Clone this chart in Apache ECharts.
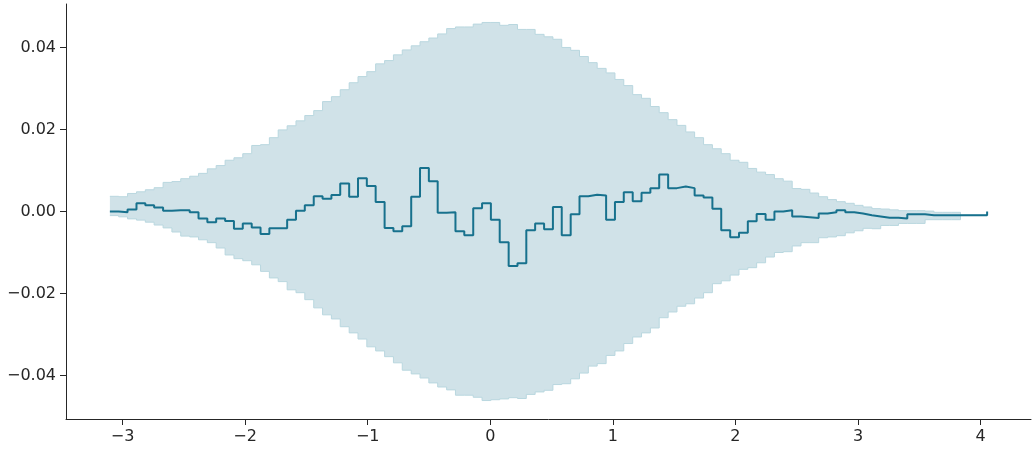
<!DOCTYPE html>
<html>
<head>
<meta charset="utf-8">
<script src="https://cdn.jsdelivr.net/npm/echarts@6/dist/echarts.min.js"></script>
<style>
html,body{margin:0;padding:0;background:#ffffff;}
#chart{width:1035px;height:450px;}
</style>
</head>
<body>
<div id="chart"></div>
<script>
// Bin edges (x positions) of the step data
const xEdges = [
-3.103,-3.031,-2.959,-2.886,-2.814,-2.742,-2.669,-2.597,-2.525,-2.452,
-2.380,-2.308,-2.236,-2.163,-2.091,-2.019,-1.946,-1.874,-1.802,-1.730,
-1.657,-1.585,-1.513,-1.440,-1.368,-1.296,-1.224,-1.151,-1.079,-1.007,
-0.935,-0.862,-0.790,-0.718,-0.645,-0.573,-0.501,-0.429,-0.356,-0.284,
-0.212,-0.139,-0.067,0.005,0.077,0.150,0.222,0.294,0.366,0.439,
0.511,0.583,0.656,0.728,0.800,0.872,0.945,1.017,1.089,1.162,
1.234,1.306,1.378,1.451,1.523,1.595,1.667,1.740,1.812,1.884,
1.957,2.029,2.101,2.173,2.246,2.318,2.390,2.463,2.535,2.607,
2.679,2.752,2.824,2.896,2.969,3.041,3.113,3.185,3.258,3.330,
3.402,3.475,3.547,3.619,3.691,3.764,3.836,3.908,3.981,4.053
];

// Central step line
const lineValues = [
0.0000,-0.0002,0.0005,0.0020,0.0015,0.0010,0.0002,0.0003,0.0003,-0.0002,
-0.0017,-0.0026,-0.0017,-0.0023,-0.0042,-0.0029,-0.0039,-0.0055,-0.0041,-0.0041,
-0.0020,0.0002,0.0015,0.0037,0.0031,0.0040,0.0068,0.0036,0.0081,0.0062,
0.0023,-0.0040,-0.0048,-0.0036,0.0036,0.0106,0.0074,-0.0003,-0.0002,-0.0048,
-0.0058,0.0008,0.0020,-0.0020,-0.0075,-0.0133,-0.0126,-0.0046,-0.0029,-0.0043,
0.0011,-0.0058,-0.0007,0.0037,0.0041,0.0039,-0.0020,0.0023,0.0047,0.0025,
0.0046,0.0057,0.0090,0.0057,0.0061,0.0057,0.0039,0.0034,0.0007,-0.0046,
-0.0063,-0.0052,-0.0024,-0.0006,-0.0020,0.0000,0.0003,-0.0012,-0.0014,-0.0016,
-0.0005,-0.0002,0.0003,-0.0002,-0.0005,-0.0009,-0.0012,-0.0015,-0.0015,-0.0017,
-0.0007,-0.0007,-0.0009,-0.0009,-0.0009,-0.0009,-0.0009,-0.0009,-0.0009,0.0000
];

// Upper edge of the shaded band
const upperValues = [
0.0037,0.0036,0.0044,0.0048,0.0053,0.0058,0.0071,0.0073,0.0080,0.0086,
0.0093,0.0104,0.0112,0.0125,0.0131,0.0141,0.0161,0.0163,0.0180,0.0199,
0.0209,0.0221,0.0234,0.0246,0.0268,0.0280,0.0297,0.0314,0.0329,0.0341,
0.0360,0.0368,0.0382,0.0394,0.0404,0.0414,0.0423,0.0433,0.0446,0.0450,
0.0450,0.0457,0.0461,0.0461,0.0454,0.0456,0.0444,0.0444,0.0432,0.0426,
0.0420,0.0400,0.0393,0.0378,0.0363,0.0349,0.0338,0.0322,0.0307,0.0285,
0.0276,0.0256,0.0241,0.0224,0.0210,0.0194,0.0180,0.0163,0.0153,0.0141,
0.0125,0.0120,0.0105,0.0096,0.0090,0.0080,0.0074,0.0056,0.0054,0.0045,
0.0036,0.0029,0.0024,0.0020,0.0015,0.0011,0.0007,0.0006,0.0004,0.0002,
0.0002,0.0002,0.0001,-0.0002,-0.0002,-0.0002,-0.0009,-0.0009,-0.0009,-0.0009
];

// Lower edge of the shaded band
const lowerValues = [
-0.0010,-0.0013,-0.0018,-0.0021,-0.0026,-0.0033,-0.0040,-0.0050,-0.0060,-0.0062,
-0.0069,-0.0076,-0.0089,-0.0106,-0.0115,-0.0120,-0.0130,-0.0146,-0.0162,-0.0171,
-0.0191,-0.0198,-0.0215,-0.0235,-0.0252,-0.0262,-0.0281,-0.0296,-0.0311,-0.0330,
-0.0340,-0.0354,-0.0369,-0.0387,-0.0396,-0.0406,-0.0418,-0.0428,-0.0435,-0.0448,
-0.0448,-0.0453,-0.0461,-0.0459,-0.0457,-0.0454,-0.0456,-0.0446,-0.0440,-0.0436,
-0.0422,-0.0420,-0.0408,-0.0394,-0.0377,-0.0371,-0.0351,-0.0340,-0.0322,-0.0306,
-0.0296,-0.0284,-0.0259,-0.0245,-0.0231,-0.0225,-0.0211,-0.0198,-0.0176,-0.0169,
-0.0155,-0.0141,-0.0137,-0.0125,-0.0111,-0.0100,-0.0098,-0.0084,-0.0076,-0.0076,
-0.0064,-0.0062,-0.0059,-0.0052,-0.0047,-0.0041,-0.0042,-0.0034,-0.0034,-0.0029,
-0.0029,-0.0029,-0.0020,-0.0020,-0.0020,-0.0020,-0.0009,-0.0009,-0.0009,-0.0009
];

const xTicks = [-3, -2, -1, 0, 1, 2, 3, 4];
const yTicks = [-0.04, -0.02, 0.00, 0.02, 0.04];

const LINE_COLOR = '#17718d';
const FILL_COLOR = '#d0e2e8';
const EDGE_COLOR = '#b9d7df';
const AXIS_COLOR = '#262626';
const FONT = 'DejaVu Sans';

const minus = '\u2212';
function fmtY(v) {
  const r = Math.round(v * 100) / 100;
  return (r < 0 ? minus : '') + Math.abs(r).toFixed(2);
}
function fmtX(v) {
  const r = Math.round(v);
  return (r < 0 ? minus : '') + Math.abs(r);
}

// Band data: one row per bin edge [x, lower, upper]
const bandData = xEdges.map((x, i) => [x, lowerValues[i], upperValues[i]]);
const lineData = xEdges.map((x, i) => [x, lineValues[i]]);

function renderBand(params, api) {
  if (params.dataIndex !== 0) return null;
  const n = xEdges.length;
  const top = [];
  const bottom = [];
  for (let i = 0; i < n - 1; i++) {
    top.push(api.coord([xEdges[i], upperValues[i]]));
    top.push(api.coord([xEdges[i + 1], upperValues[i]]));
    bottom.push(api.coord([xEdges[i], lowerValues[i]]));
    bottom.push(api.coord([xEdges[i + 1], lowerValues[i]]));
  }
  const poly = top.concat(bottom.slice().reverse());
  return {
    type: 'group',
    children: [
      {type: 'polygon', shape: {points: poly}, style: {fill: FILL_COLOR, stroke: null}},
      {type: 'polyline', shape: {points: top}, style: {fill: null, stroke: EDGE_COLOR, lineWidth: 1}},
      {type: 'polyline', shape: {points: bottom}, style: {fill: null, stroke: EDGE_COLOR, lineWidth: 1}}
    ]
  };
}

const chart = echarts.init(document.getElementById('chart'), null, {renderer: 'canvas'});
chart.setOption({
  animation: false,
  backgroundColor: '#ffffff',
  grid: {left: 66, right: 4, top: 4, bottom: 31, containLabel: false},
  xAxis: {
    type: 'value',
    min: -3.461,
    max: 4.411,
    splitLine: {show: false},
    axisLine: {show: true, onZero: false, lineStyle: {color: AXIS_COLOR, width: 1}},
    axisTick: {show: true, length: 6, inside: false, lineStyle: {color: AXIS_COLOR, width: 1}, customValues: xTicks},
    axisLabel: {color: AXIS_COLOR, fontFamily: FONT, fontSize: 16, margin: 10, customValues: xTicks, formatter: fmtX}
  },
  yAxis: {
    type: 'value',
    min: -0.0506,
    max: 0.0506,
    splitLine: {show: false},
    axisLine: {show: true, onZero: false, lineStyle: {color: AXIS_COLOR, width: 1}},
    axisTick: {show: true, length: 6, inside: false, lineStyle: {color: AXIS_COLOR, width: 1}, customValues: yTicks},
    axisLabel: {color: AXIS_COLOR, fontFamily: FONT, fontSize: 16, margin: 10, customValues: yTicks, formatter: fmtY}
  },
  series: [
    {
      name: 'band',
      type: 'custom',
      data: bandData,
      encode: {x: 0, y: [1, 2]},
      renderItem: renderBand,
      silent: true,
      z: 1
    },
    {
      name: 'value',
      type: 'line',
      data: lineData,
      step: 'end',
      symbol: 'none',
      lineStyle: {color: LINE_COLOR, width: 2},
      silent: true,
      z: 3
    }
  ]
});
</script>
</body>
</html>
